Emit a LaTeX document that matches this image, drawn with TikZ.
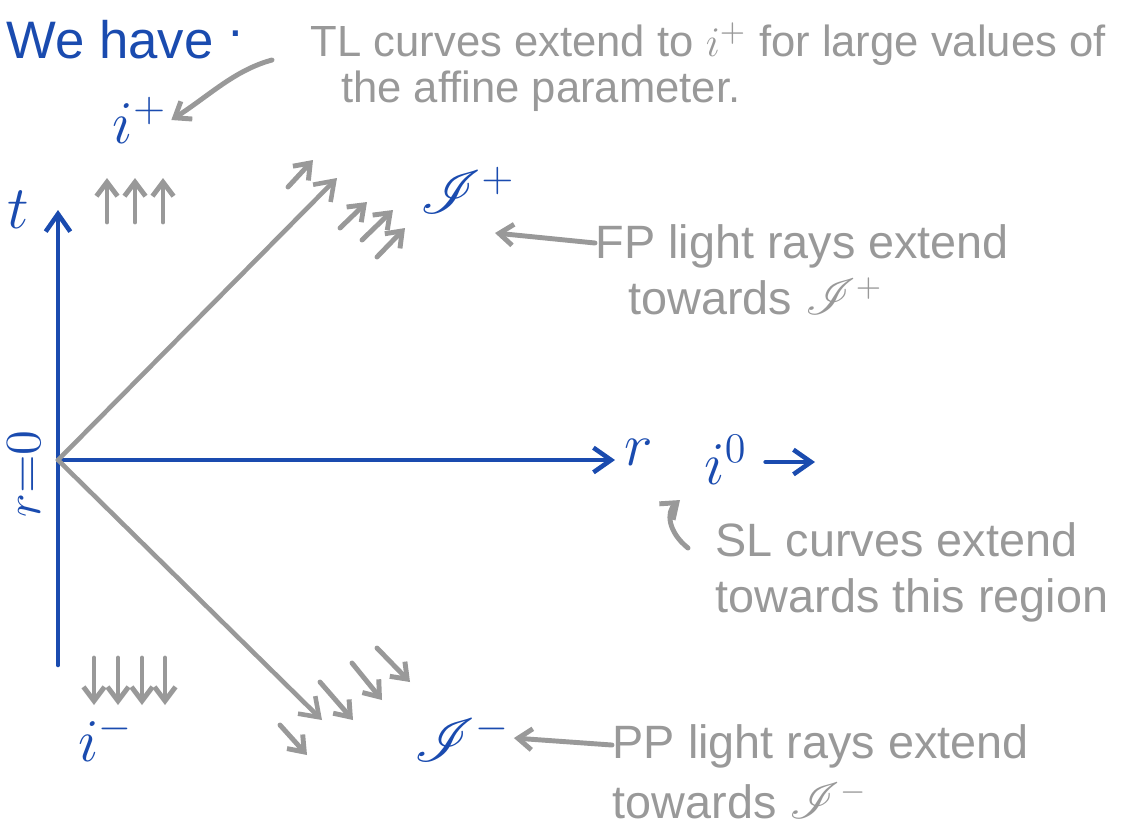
\documentclass[tikz,border=0pt]{standalone}
\usepackage{fontspec}
\setmainfont{Liberation Sans}
\usepackage{mathrsfs}
\usetikzlibrary{positioning, arrows.meta}
\definecolor{cblue}{HTML}{1A4BAF}
\definecolor{cgrey}{HTML}{999999}
\tikzset{
  axisline/.style={cblue, line width=1.3pt, line cap=round, -{Straight Barb[length=5pt, width=7pt]}},
  rayline/.style={cgrey, line width=1.3pt, line cap=round, -{Straight Barb[length=5pt, width=7pt]}},
  tickarrow/.style={cgrey, line width=1.4pt, line cap=round, -{Straight Barb[length=4pt, width=6pt]}},
  lbl/.style={text=cblue, inner sep=1pt, font=\fontsize{17}{18}\selectfont},
  note/.style={text=cgrey, inner sep=0pt, align=left, font=\fontsize{13.3}{16}\selectfont},
}

\begin{document}
\begin{tikzpicture}[x=0.01cm, y=-0.01cm]
\useasboundingbox (0,0) rectangle (1140,835);

% axes
\coordinate (O) at (58,460);
\coordinate (tbot) at (58,665);
\coordinate (ttop) at (58,210);
\coordinate (rend) at (615,460);
\draw[axisline] (tbot) -- (ttop);
\draw[axisline] (O) -- (rend);

\node[lbl] (t) at (18,210) {$t$};
\node[lbl, anchor=west] (r) at (620,452) {$r$};
\node[lbl, rotate=90, font=\fontsize{14}{16}\selectfont] (rzero) at (24,474) {$r{=}0$};

% light cone
\coordinate (fp) at (337,178);
\coordinate (pp) at (322,720);
\draw[rayline] (O) -- (fp);
\draw[rayline] (O) -- (pp);

\foreach \x in {107,135,163} \draw[tickarrow] (\x,222) -- (\x,178);
\foreach \x in {94,118,142,165} \draw[tickarrow] (\x,658) -- (\x,705);
\foreach \a/\b/\c/\d in {288/187/313/160, 340/228/367/202, 362/240/393/210, 377/257/405/228}
  \draw[tickarrow] (\a,\b) -- (\c,\d);
\foreach \a/\b/\c/\d in {280/725/307/755, 320/682/353/720, 352/663/382/700, 377/648/410/682}
  \draw[tickarrow] (\a,\b) -- (\c,\d);

% labels
\node[lbl, anchor=west, font=\fontsize{15}{17}\selectfont] (have) at (2,40) {We have\ \raisebox{0.8ex}{.}};
\node[lbl] (iplus) at (140,120) {$i^+$};
\node[lbl] (scriplus) at (468,190) {$\mathscr{I}^+$};
\node[lbl] (izero) at (726,460) {$i^0$};
\node[lbl] (iminus) at (106,738) {$i^-$};
\node[lbl] (scriminus) at (462,738) {$\mathscr{I}^-$};

% notes
\node[note, anchor=north west, font=\fontsize{12.4}{13}\selectfont] (tlnote) at (310,22) {TL curves extend to $i^+$ for large values of\\ \hspace{0.7em}the affine parameter.};
\node[note, anchor=north west] (fpnote) at (595,224) {FP light rays extend\\ \hspace{0.7em}towards $\mathscr{I}^+$};
\node[note, anchor=north west] (slnote) at (715,522) {SL curves extend\\ towards this region};
\node[note, anchor=north west, font=\fontsize{13.3}{17}\selectfont] (ppnote) at (612,724) {PP light rays extend\\ towards $\mathscr{I}^-$};

% pointers
\coordinate (tltail) at (272,60);
\draw[tickarrow] (tltail) .. controls (235,70) and (210,95) .. (iplus.east);
\coordinate (fphead) at (495,233);
\draw[tickarrow] (fpnote.west |- 0,243) -- (fphead);
\coordinate (sltail) at (688,548);
\coordinate (slhead) at (680,500);
\draw[tickarrow] (sltail) .. controls (668,532) and (666,512) .. (slhead);
\draw[tickarrow] (ppnote.west |- 0,745) -- (scriminus.east);
\coordinate (izend) at (815,462);
\draw[axisline, shorten <=4pt] (izero.east |- izend) -- (izend);

\end{tikzpicture}
\end{document}
